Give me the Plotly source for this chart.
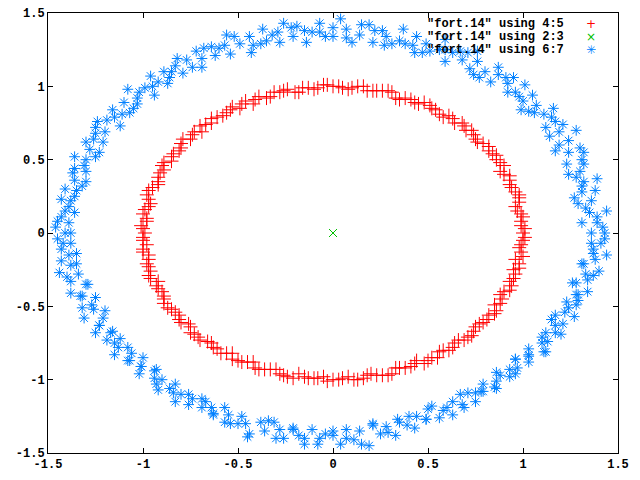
import plotly.graph_objects as go

# ─── DATA ─────────────────────────────────────────────────────────────────────
# columns 4:5 -> inner ring (red +), two batches of points
inner_a_x = [1.00, 0.99, 1.00, 0.97, 0.98, 0.98, 0.94, 0.93, 0.90, 0.90,
             0.86, 0.84, 0.82, 0.76, 0.74, 0.70, 0.68, 0.63, 0.58, 0.54,
             0.51, 0.45, 0.41, 0.35, 0.31, 0.26, 0.21, 0.16, 0.10, 0.05,
             0.00, -0.05, -0.10, -0.16, -0.20, -0.26, -0.31, -0.35, -0.41, -0.46,
             -0.49, -0.54, -0.58, -0.64, -0.67, -0.69, -0.74, -0.79, -0.80, -0.84,
             -0.85, -0.90, -0.91, -0.92, -0.95, -0.98, -0.96, -0.99, -0.98, -1.01,
             -0.99, -1.00, -1.00, -0.97, -0.98, -0.96, -0.96, -0.93, -0.90, -0.89,
             -0.87, -0.83, -0.81, -0.76, -0.75, -0.71, -0.66, -0.63, -0.59, -0.53,
             -0.50, -0.45, -0.41, -0.36, -0.30, -0.26, -0.21, -0.15, -0.10, -0.05,
             0.00, 0.05, 0.11, 0.16, 0.20, 0.26, 0.31, 0.35, 0.41, 0.44,
             0.50, 0.55, 0.58, 0.63, 0.66, 0.71, 0.74, 0.77, 0.81, 0.85,
             0.85, 0.89, 0.90, 0.94, 0.95, 0.95, 0.98, 1.00, 0.98, 1.00]
inner_a_y = [0.00, 0.05, 0.11, 0.15, 0.21, 0.26, 0.31, 0.36, 0.40, 0.46,
             0.50, 0.54, 0.59, 0.62, 0.67, 0.70, 0.75, 0.78, 0.79, 0.84,
             0.87, 0.88, 0.91, 0.91, 0.96, 0.97, 0.97, 1.00, 0.99, 0.99,
             1.00, 1.01, 0.98, 0.99, 0.96, 0.97, 0.96, 0.92, 0.91, 0.90,
             0.85, 0.84, 0.80, 0.78, 0.74, 0.69, 0.67, 0.64, 0.58, 0.54,
             0.49, 0.46, 0.41, 0.35, 0.31, 0.26, 0.20, 0.16, 0.10, 0.05,
             0.00, -0.05, -0.11, -0.15, -0.21, -0.26, -0.31, -0.36, -0.40, -0.45,
             -0.51, -0.54, -0.59, -0.62, -0.68, -0.71, -0.74, -0.78, -0.82, -0.82,
             -0.87, -0.88, -0.92, -0.93, -0.93, -0.97, -0.99, -0.98, -0.99, -0.98,
             -1.00, -0.99, -1.00, -0.99, -0.96, -0.97, -0.96, -0.92, -0.91, -0.87,
             -0.87, -0.85, -0.80, -0.78, -0.73, -0.71, -0.67, -0.62, -0.59, -0.55,
             -0.49, -0.45, -0.40, -0.36, -0.31, -0.25, -0.21, -0.16, -0.10, -0.05]
inner_b_x = [1.01, 0.99, 0.99, 0.96, 0.98, 0.96, 0.93, 0.93, 0.88, 0.88,
             0.86, 0.82, 0.79, 0.75, 0.73, 0.69, 0.64, 0.61, 0.56, 0.52,
             0.48, 0.43, 0.38, 0.33, 0.29, 0.23, 0.18, 0.13, 0.08, 0.03,
             -0.03, -0.08, -0.13, -0.18, -0.24, -0.28, -0.33, -0.39, -0.42, -0.48,
             -0.53, -0.56, -0.61, -0.64, -0.70, -0.73, -0.75, -0.80, -0.81, -0.85,
             -0.89, -0.89, -0.92, -0.92, -0.97, -0.97, -0.97, -1.00, -0.98, -1.00,
             -1.00, -0.98, -1.00, -0.97, -0.97, -0.97, -0.92, -0.92, -0.89, -0.89,
             -0.85, -0.81, -0.80, -0.75, -0.73, -0.70, -0.64, -0.61, -0.56, -0.53,
             -0.48, -0.42, -0.39, -0.33, -0.28, -0.24, -0.18, -0.13, -0.08, -0.03,
             0.03, 0.08, 0.13, 0.18, 0.23, 0.29, 0.33, 0.38, 0.43, 0.48,
             0.52, 0.56, 0.61, 0.64, 0.69, 0.73, 0.75, 0.79, 0.82, 0.86,
             0.88, 0.88, 0.93, 0.93, 0.96, 0.98, 0.96, 0.99, 0.99, 1.01]
inner_b_y = [0.03, 0.08, 0.13, 0.18, 0.24, 0.28, 0.33, 0.39, 0.42, 0.48,
             0.53, 0.56, 0.61, 0.64, 0.70, 0.73, 0.75, 0.80, 0.81, 0.85,
             0.89, 0.89, 0.92, 0.92, 0.97, 0.97, 0.97, 1.00, 0.98, 1.00,
             1.01, 0.99, 0.99, 0.96, 0.98, 0.96, 0.93, 0.93, 0.88, 0.88,
             0.86, 0.82, 0.79, 0.75, 0.73, 0.69, 0.64, 0.61, 0.56, 0.52,
             0.48, 0.43, 0.38, 0.33, 0.29, 0.23, 0.18, 0.13, 0.08, 0.03,
             -0.03, -0.08, -0.13, -0.18, -0.23, -0.29, -0.33, -0.38, -0.43, -0.48,
             -0.52, -0.56, -0.61, -0.64, -0.69, -0.73, -0.75, -0.79, -0.82, -0.86,
             -0.88, -0.88, -0.93, -0.93, -0.96, -0.98, -0.96, -0.99, -0.99, -1.01,
             -1.00, -0.98, -1.00, -0.97, -0.97, -0.97, -0.92, -0.92, -0.89, -0.89,
             -0.85, -0.81, -0.80, -0.75, -0.73, -0.70, -0.64, -0.61, -0.56, -0.53,
             -0.48, -0.42, -0.39, -0.33, -0.28, -0.24, -0.18, -0.13, -0.08, -0.03]

# columns 2:3 -> centre point (green x)
centre_x = [0.0]
centre_y = [0.0]

# columns 6:7 -> outer ring (blue *), two batches of points
outer_a_x = [1.36, 1.42, 1.31, 1.39, 1.44, 1.33, 1.36, 1.27, 1.38, 1.31,
             1.39, 1.28, 1.30, 1.32, 1.23, 1.32, 1.24, 1.17, 1.24, 1.28,
             1.19, 1.21, 1.12, 1.15, 1.16, 1.06, 1.07, 0.99, 1.05, 0.98,
             1.01, 0.92, 0.92, 0.91, 0.83, 0.87, 0.80, 0.74, 0.76, 0.76,
             0.68, 0.67, 0.59, 0.59, 0.59, 0.51, 0.49, 0.43, 0.44, 0.38,
             0.37, 0.31, 0.28, 0.26, 0.21, 0.19, 0.14, 0.10, 0.07, 0.04,
             0.00, -0.04, -0.07, -0.11, -0.14, -0.19, -0.21, -0.26, -0.28, -0.32,
             -0.37, -0.38, -0.44, -0.43, -0.49, -0.56, -0.54, -0.60, -0.62, -0.68,
             -0.69, -0.69, -0.77, -0.82, -0.79, -0.85, -0.89, -0.87, -0.96, -0.95,
             -0.94, -1.02, -1.08, -1.03, -1.10, -1.07, -1.16, -1.15, -1.12, -1.24,
             -1.20, -1.25, -1.21, -1.30, -1.28, -1.25, -1.36, -1.31, -1.30, -1.37,
             -1.36, -1.32, -1.41, -1.36, -1.43, -1.39, -1.36, -1.43, -1.39, -1.46,
             -1.41, -1.45, -1.38, -1.43, -1.35, -1.43, -1.38, -1.44, -1.34, -1.38,
             -1.30, -1.38, -1.32, -1.25, -1.32, -1.26, -1.31, -1.21, -1.23, -1.25,
             -1.17, -1.19, -1.12, -1.13, -1.15, -1.06, -1.07, -1.00, -1.01, -1.02,
             -0.94, -0.94, -0.90, -0.92, -0.83, -0.84, -0.80, -0.76, -0.76, -0.69,
             -0.69, -0.64, -0.63, -0.57, -0.55, -0.54, -0.48, -0.46, -0.44, -0.38,
             -0.36, -0.31, -0.28, -0.26, -0.21, -0.18, -0.15, -0.11, -0.07, -0.04,
             0.00, 0.04, 0.07, 0.11, 0.14, 0.19, 0.21, 0.25, 0.28, 0.33,
             0.34, 0.39, 0.43, 0.44, 0.49, 0.50, 0.56, 0.58, 0.63, 0.63,
             0.68, 0.67, 0.75, 0.75, 0.79, 0.79, 0.86, 0.86, 0.86, 0.93,
             0.93, 0.97, 0.96, 1.03, 1.03, 1.03, 1.11, 1.10, 1.13, 1.12,
             1.20, 1.17, 1.21, 1.17, 1.27, 1.24, 1.23, 1.29, 1.28, 1.34,
             1.28, 1.34, 1.33, 1.40, 1.32, 1.38, 1.44, 1.37, 1.41, 1.43]
outer_a_y = [0.00, 0.04, 0.07, 0.11, 0.15, 0.17, 0.22, 0.24, 0.29, 0.32,
             0.37, 0.38, 0.42, 0.47, 0.47, 0.55, 0.55, 0.56, 0.63, 0.70,
             0.69, 0.74, 0.72, 0.79, 0.85, 0.82, 0.87, 0.84, 0.94, 0.93,
             1.01, 0.96, 1.02, 1.06, 1.03, 1.13, 1.10, 1.08, 1.17, 1.24,
             1.18, 1.24, 1.17, 1.25, 1.32, 1.24, 1.29, 1.23, 1.34, 1.29,
             1.39, 1.29, 1.34, 1.38, 1.30, 1.42, 1.35, 1.30, 1.39, 1.46,
             1.40, 1.34, 1.43, 1.37, 1.30, 1.41, 1.34, 1.43, 1.30, 1.35,
             1.39, 1.29, 1.34, 1.23, 1.29, 1.35, 1.22, 1.26, 1.21, 1.26,
             1.19, 1.13, 1.18, 1.19, 1.09, 1.10, 1.10, 1.02, 1.07, 1.00,
             0.94, 0.96, 0.98, 0.88, 0.89, 0.82, 0.84, 0.79, 0.73, 0.76,
             0.69, 0.68, 0.62, 0.62, 0.57, 0.52, 0.52, 0.46, 0.42, 0.41,
             0.36, 0.32, 0.30, 0.25, 0.23, 0.18, 0.14, 0.11, 0.07, 0.04,
             0.00, -0.04, -0.07, -0.11, -0.14, -0.19, -0.22, -0.27, -0.28, -0.33,
             -0.35, -0.41, -0.43, -0.44, -0.51, -0.52, -0.58, -0.58, -0.63, -0.68,
             -0.68, -0.73, -0.72, -0.78, -0.83, -0.82, -0.87, -0.85, -0.91, -0.96,
             -0.94, -0.99, -1.00, -1.07, -1.03, -1.09, -1.10, -1.10, -1.17, -1.13,
             -1.19, -1.19, -1.24, -1.19, -1.24, -1.30, -1.25, -1.30, -1.37, -1.29,
             -1.35, -1.29, -1.34, -1.40, -1.34, -1.38, -1.44, -1.34, -1.40, -1.37,
             -1.38, -1.44, -1.34, -1.41, -1.35, -1.45, -1.31, -1.37, -1.32, -1.38,
             -1.27, -1.31, -1.33, -1.25, -1.27, -1.20, -1.26, -1.21, -1.24, -1.15,
             -1.17, -1.10, -1.15, -1.09, -1.08, -1.03, -1.06, -1.01, -0.95, -0.98,
             -0.93, -0.92, -0.86, -0.88, -0.83, -0.79, -0.81, -0.75, -0.74, -0.68,
             -0.69, -0.63, -0.62, -0.56, -0.57, -0.51, -0.47, -0.46, -0.42, -0.40,
             -0.34, -0.32, -0.28, -0.26, -0.21, -0.18, -0.15, -0.11, -0.07, -0.04]
outer_b_x = [1.43, 1.39, 1.35, 1.29, 1.31, 1.32, 1.24, 1.31, 1.30, 1.19,
             1.14, 1.17, 1.11, 1.03, 1.00, 0.96, 0.95, 0.87, 0.77, 0.72,
             0.71, 0.63, 0.56, 0.47, 0.42, 0.35, 0.27, 0.22, 0.15, 0.07,
             0.00, -0.07, -0.15, -0.22, -0.29, -0.35, -0.42, -0.52, -0.57, -0.64,
             -0.72, -0.74, -0.83, -0.86, -0.92, -0.99, -1.03, -1.05, -1.11, -1.19,
             -1.25, -1.26, -1.23, -1.30, -1.36, -1.30, -1.35, -1.38, -1.41, -1.45,
             -1.38, -1.42, -1.39, -1.35, -1.40, -1.29, -1.33, -1.27, -1.20, -1.23,
             -1.16, -1.15, -1.08, -1.08, -1.01, -0.93, -0.93, -0.86, -0.83, -0.74,
             -0.67, -0.63, -0.57, -0.50, -0.45, -0.34, -0.30, -0.21, -0.15, -0.08,
             0.00, 0.07, 0.15, 0.21, 0.29, 0.35, 0.40, 0.49, 0.52, 0.60,
             0.69, 0.71, 0.78, 0.85, 0.88, 0.96, 0.96, 1.03, 1.12, 1.10,
             1.17, 1.15, 1.22, 1.28, 1.29, 1.26, 1.37, 1.31, 1.37, 1.36]
outer_b_y = [0.00, 0.07, 0.14, 0.20, 0.28, 0.35, 0.40, 0.50, 0.58, 0.60,
             0.66, 0.76, 0.81, 0.83, 0.90, 0.96, 1.06, 1.08, 1.06, 1.12,
             1.23, 1.23, 1.25, 1.23, 1.28, 1.31, 1.28, 1.38, 1.42, 1.33,
             1.34, 1.37, 1.38, 1.40, 1.37, 1.31, 1.28, 1.34, 1.28, 1.27,
             1.24, 1.13, 1.14, 1.06, 1.03, 0.99, 0.92, 0.85, 0.81, 0.77,
             0.72, 0.64, 0.55, 0.50, 0.44, 0.35, 0.29, 0.22, 0.15, 0.08,
             0.00, -0.07, -0.15, -0.21, -0.30, -0.35, -0.43, -0.49, -0.53, -0.63,
             -0.67, -0.75, -0.78, -0.87, -0.91, -0.93, -1.03, -1.06, -1.15, -1.13,
             -1.15, -1.23, -1.29, -1.30, -1.39, -1.28, -1.40, -1.33, -1.40, -1.44,
             -1.35, -1.40, -1.44, -1.30, -1.36, -1.29, -1.25, -1.27, -1.18, -1.19,
             -1.19, -1.09, -1.08, -1.05, -0.97, -0.96, -0.86, -0.84, -0.81, -0.71,
             -0.68, -0.59, -0.54, -0.49, -0.42, -0.34, -0.29, -0.21, -0.14, -0.07]

series_names = ['"fort.14" using 4:5', '"fort.14" using 2:3', '"fort.14" using 6:7']
tick_vals = [-1.5, -1, -0.5, 0, 0.5, 1, 1.5]
tick_text = ["-1.5", "-1", "-0.5", "0", "0.5", "1", "1.5"]

inner_x = inner_a_x + inner_b_x
inner_y = inner_a_y + inner_b_y
outer_x = outer_a_x + outer_b_x
outer_y = outer_a_y + outer_b_y

# ─── GNUPLOT-ISH STYLE ────────────────────────────────────────────────────────
RED, GREEN, BLUE = "#ff0000", "#00c000", "#0080ff"
FONT = dict(family="Liberation Mono, DejaVu Sans Mono, monospace", size=12,
            color="black", weight="bold")

fig = go.Figure()
fig.add_trace(go.Scatter(
    x=inner_x, y=inner_y, mode="markers", name=series_names[0],
    marker=dict(symbol="cross-thin-open", size=10, color=RED,
                line=dict(color=RED, width=1)),
))
fig.add_trace(go.Scatter(
    x=centre_x, y=centre_y, mode="markers", name=series_names[1],
    marker=dict(symbol="x-thin-open", size=8, color=GREEN,
                line=dict(color=GREEN, width=1)),
))
fig.add_trace(go.Scatter(
    x=outer_x, y=outer_y, mode="markers", name=series_names[2],
    marker=dict(symbol="asterisk-open", size=9, color=BLUE,
                line=dict(color=BLUE, width=1)),
))

# key drawn gnuplot-style: right-aligned text, sample glyph on the right
key_glyphs = ["+", "×", "✳"]
key_colors = [RED, GREEN, BLUE]
for i, (name, glyph, col) in enumerate(zip(series_names, key_glyphs, key_colors)):
    fig.add_annotation(xref="paper", yref="paper", x=0.908, y=0.976 - i * 0.0295,
                       text=name, showarrow=False, xanchor="right", yanchor="middle",
                       height=13, font=FONT)
    fig.add_annotation(xref="paper", yref="paper", x=0.952, y=0.976 - i * 0.0295,
                       text=glyph, showarrow=False, xanchor="center", yanchor="middle",
                       height=13, font=dict(family="DejaVu Sans", size=12, color=col))

axis_style = dict(
    range=[-1.5, 1.5], tickvals=tick_vals, ticktext=tick_text,
    ticks="inside", ticklen=5, tickcolor="black", tickwidth=1,
    showline=True, linecolor="black", linewidth=1, mirror="ticks",
    showgrid=False, zeroline=False, tickfont=FONT,
    ticklabeloverflow="allow", automargin=False,
)

# page body has an 8px margin, so the figure is shrunk by that much
fig.update_layout(
    width=632, height=472,
    margin=dict(l=40, r=22, t=5, b=27),
    paper_bgcolor="white", plot_bgcolor="white",
    showlegend=False,
    xaxis=axis_style,
    yaxis=axis_style,
)

fig.write_html("out.html")
